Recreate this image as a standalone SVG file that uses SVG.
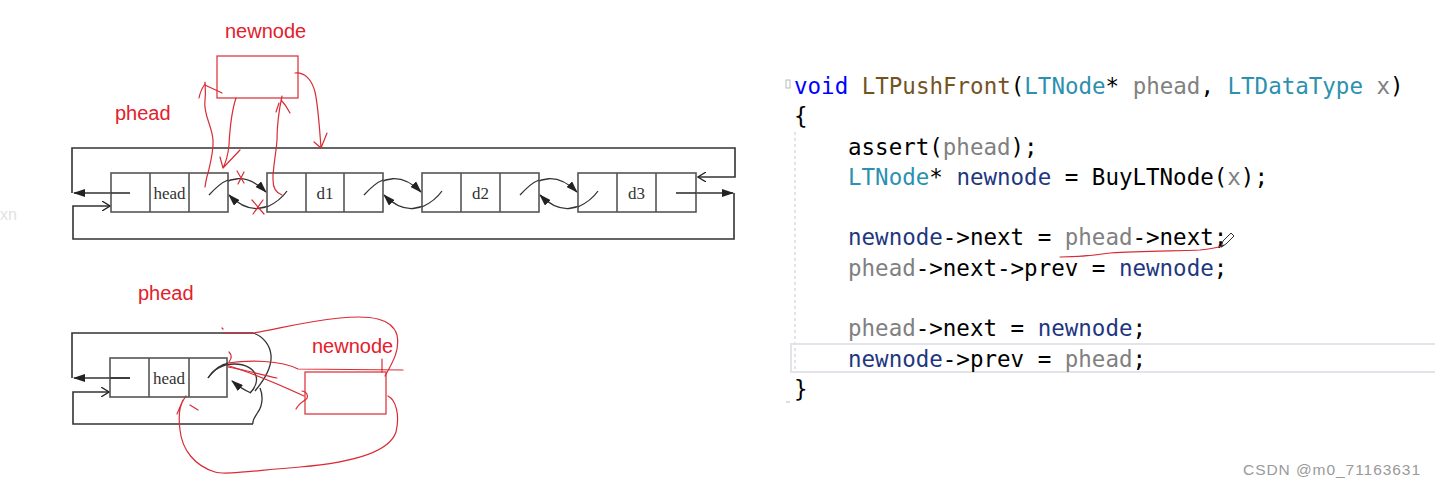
<svg xmlns="http://www.w3.org/2000/svg" width="1435" height="487" viewBox="0 0 1435 487">
<style>
.box{fill:#fff;stroke:#555;stroke-width:1.6}
.div{stroke:#555;stroke-width:1.6}
.ln{fill:none;stroke:#333;stroke-width:1.6}
.arc{fill:none;stroke:#333;stroke-width:1.3}
.red{fill:none;stroke:#d92b35;stroke-width:1.2;stroke-linecap:round;stroke-linejoin:round}
.rbox{fill:none;stroke:#d92b35;stroke-width:1.2}
.lbl{font-family:"Liberation Serif",serif;font-size:17px;fill:#333;text-anchor:middle}
.rtxt{font-family:"Liberation Sans","Noto Sans",sans-serif;font-size:20px;fill:#e3202b}
.code{font-family:"DejaVu Sans Mono","Liberation Mono",monospace;font-size:22.5px;fill:#000}
.kw{fill:#0000ff}.fn{fill:#74531f}.ty{fill:#2b91af}.pa{fill:#808080}.lo{fill:#1f377f}
</style>
<defs>
<marker id="fa" viewBox="0 0 12 8" refX="11" refY="4" markerWidth="12" markerHeight="8" markerUnits="userSpaceOnUse" orient="auto"><path d="M0,0 L12,4 L0,8 z" fill="#222"/></marker>
<marker id="oa" viewBox="0 0 9 10" refX="8" refY="5" markerWidth="9" markerHeight="10" markerUnits="userSpaceOnUse" orient="auto"><path d="M0,0 L8,5 L0,10" fill="none" stroke="#222" stroke-width="1.3"/></marker>
</defs>
<rect width="1435" height="487" fill="#fff"/>

<text x="0" y="220" font-family="Liberation Sans,sans-serif" font-size="16" fill="#e2e2e2">xn</text>

<!-- top diagram labels -->
<text class="rtxt" x="225" y="38">newnode</text>
<text class="rtxt" x="115" y="120">phead</text>

<!-- connectors -->
<g id="connectors">
  <!-- top frame -->
  <path class="ln" d="M130,193 L74,193" marker-end="url(#fa)"/>
  <path class="ln" d="M72,193 L72,148 L735,148 L735,177 L698,177" marker-end="url(#oa)"/>
  <path class="ln" d="M676,193 L733,193" marker-end="url(#fa)"/>
  <path class="ln" d="M734,193 L734,239 L73,239 L73,206 L110,206" marker-end="url(#oa)"/>
  <!-- top inter-node arcs -->
  <path class="arc" d="M209,195 Q238,164 266,192" marker-end="url(#fa)"/>
  <path class="arc" d="M287,191 Q258,224 229,195" marker-end="url(#fa)"/>
  <path class="arc" d="M364,195 Q393,164 421,192" marker-end="url(#fa)"/>
  <path class="arc" d="M442,191 Q413,224 384,195" marker-end="url(#fa)"/>
  <path class="arc" d="M520,195 Q549,164 577,192" marker-end="url(#fa)"/>
  <path class="arc" d="M598,191 Q569,224 540,195" marker-end="url(#fa)"/>
  <!-- bottom frame -->
  <path class="ln" d="M130,378 L74,378" marker-end="url(#fa)"/>
  <path class="ln" d="M72,378 L72,333 L253,333"/>
  <path class="ln" d="M253,424 L73,424 L73,392 L109,392" marker-end="url(#oa)"/>
  <path class="arc" d="M253,333 C263,336 270,345 271,355 C272,366 266,378 255,391"/>
  <path class="arc" d="M260,388 C263,395 263,405 258,412 C255,417 252,420 253,424"/>
  <path class="arc" d="M208,378 C214,369 222,364 234,364 C246,364 254,369 256,376 C258,383 254,389 250,393"/>
  <path class="arc" d="M251,393 C244,390 238,386 232,381" marker-end="url(#fa)"/>
  <!-- red hand-drawn top -->
  <path class="red" d="M205,187 C208,170 214,155 213,140 C212,125 203,115 205,100 C206,92 205,86 205,82"/>
  <path class="red" d="M205,85 C211,88 216,90 222,93 M205,84 C202,88 200,93 199,98"/>
  <path class="red" d="M236,98 C232,110 230,125 229,145 C228,155 226,162 223,168 M223,168 L240,150 M223,168 L220,157"/>
  <path class="red" d="M282,96 C279,110 277,125 277,140 C276,155 273,165 273,180 C273,188 276,193 282,195 M281,100 C285,104 288,109 290,113 M279,103 L276,112"/>
  <path class="red" d="M295,73 C305,72 312,80 315,92 C318,105 319,120 321,148 M321,148 L314,142 M321,148 L327,133"/>
  <path class="red" d="M237,171 L244,183 M244,172 L238,184 M252,200 L264,214 M263,200 L253,214"/>
  <!-- red hand-drawn bottom -->
  <path class="red" d="M222,328 L223,329 M224,333 L253,333 C275,330 300,322 340,318 C370,315 392,318 397,335 C400,350 393,362 385,376"/>
  <path class="red" d="M227,363 C250,360 280,360 298,369 L403,370 M382,359 L382,372"/>
  <path class="red" d="M228,367 C245,370 262,375 277,378"/>
  <path class="red" d="M226,365 C250,372 280,385 304,396 M302,391 C308,392 309,398 305,400 C302,402 298,405 296,409"/>
  <path class="red" d="M229,352 C232,355 232,358 229,362"/>
  <path class="red" d="M388,396 C396,400 400,415 396,432 C390,450 360,462 300,467 C250,471 225,475 215,472 C195,466 182,450 180,430 C178,415 180,405 184,399 L186,396 M183,400 L177,414 M190,405 L198,410"/>
</g>

<!-- top nodes -->
<g id="top-head">
  <rect class="box" x="111" y="173" width="117" height="39"/>
  <line class="div" x1="150" y1="173" x2="150" y2="212"/><line class="div" x1="189" y1="173" x2="189" y2="212"/>
  <text class="lbl" x="169.5" y="199">head</text>
</g>
<g id="top-d1">
  <rect class="box" x="267" y="173" width="116" height="39"/>
  <line class="div" x1="306" y1="173" x2="306" y2="212"/><line class="div" x1="344" y1="173" x2="344" y2="212"/>
  <text class="lbl" x="325" y="199">d1</text>
</g>
<g id="top-d2">
  <rect class="box" x="422" y="173" width="117" height="39"/>
  <line class="div" x1="461" y1="173" x2="461" y2="212"/><line class="div" x1="500" y1="173" x2="500" y2="212"/>
  <text class="lbl" x="480.5" y="199">d2</text>
</g>
<g id="top-d3">
  <rect class="box" x="578" y="173" width="118" height="39"/>
  <line class="div" x1="617" y1="173" x2="617" y2="212"/><line class="div" x1="656" y1="173" x2="656" y2="212"/>
  <text class="lbl" x="636.5" y="199">d3</text>
</g>
<g id="top-newnode">
  <rect class="rbox" x="217" y="56" width="81" height="42"/>
</g>

<!-- re-draw arc fragments over boxes -->
<g id="arc-overlay">
  <path class="arc" d="M209,195 Q220,183 228,180"/>
  <path class="arc" d="M287,191 Q280,201 267,207"/>
  <path class="arc" d="M364,195 Q375,183 383,180"/>
  <path class="arc" d="M442,191 Q435,201 422,207"/>
  <path class="arc" d="M520,195 Q531,183 539,180"/>
  <path class="arc" d="M598,191 Q591,201 578,207"/>
  <path class="ln" d="M130,193 L111,193"/>
  <path class="ln" d="M676,193 L696,193"/>
  <path class="red" d="M205,187 C206,180 207,176 208,173"/>
  <path class="red" d="M282,195 C276,193 273,188 273,180 L273,173"/>
</g>

<!-- bottom diagram -->
<text class="rtxt" x="138" y="300">phead</text>
<text class="rtxt" x="312" y="353">newnode</text>
<g id="bottom-head">
  <rect class="box" x="110" y="358" width="117" height="39" fill-opacity="0"/>
  <line class="div" x1="149" y1="358" x2="149" y2="397"/><line class="div" x1="189" y1="358" x2="189" y2="397"/>
  <text class="lbl" x="169" y="384">head</text>
</g>
<g id="bottom-newnode">
  <rect class="rbox" x="305" y="372" width="81" height="42"/>
</g>
<g id="bottom-overlay">
  <path class="arc" d="M208,378 C214,369 222,364 228,363.5"/>
  <path class="ln" d="M130,378 L110,378"/>
</g>

<!-- code panel -->
<g id="code">
  <rect x="786" y="80" width="4" height="8" fill="none" stroke="#bbb" stroke-width="1"/>
  <line x1="795" y1="132" x2="795" y2="372" stroke="#c8c8c8" stroke-width="1" stroke-dasharray="3,3"/>
  <rect x="791" y="344" width="660" height="28" fill="none" stroke="#e3e3ea" stroke-width="2"/>
  <line x1="786" y1="402" x2="790" y2="402" stroke="#bbb" stroke-width="1"/>
  <text class="code" x="794" y="94" xml:space="preserve"><tspan class="kw">void</tspan> <tspan class="fn">LTPushFront</tspan>(<tspan class="ty">LTNode</tspan>* <tspan class="pa">phead</tspan>, <tspan class="ty">LTDataType</tspan> <tspan class="pa">x</tspan>)</text>
  <text class="code" x="794" y="124">{</text>
  <text class="code" x="848" y="155" xml:space="preserve">assert(<tspan class="pa">phead</tspan>);</text>
  <text class="code" x="848" y="185" xml:space="preserve"><tspan class="ty">LTNode</tspan>* <tspan class="lo">newnode</tspan> = BuyLTNode(<tspan class="pa">x</tspan>);</text>
  <text class="code" x="848" y="245" xml:space="preserve"><tspan class="lo">newnode</tspan>-&gt;next = <tspan class="pa">phead</tspan>-&gt;next;</text>
  <text class="code" x="848" y="276" xml:space="preserve"><tspan class="pa">phead</tspan>-&gt;next-&gt;prev = <tspan class="lo">newnode</tspan>;</text>
  <text class="code" x="848" y="336" xml:space="preserve"><tspan class="pa">phead</tspan>-&gt;next = <tspan class="lo">newnode</tspan>;</text>
  <text class="code" x="848" y="367" xml:space="preserve"><tspan class="lo">newnode</tspan>-&gt;prev = <tspan class="pa">phead</tspan>;</text>
  <text class="code" x="794" y="397">}</text>
  <path class="red" d="M1060,257 C1075,257 1090,256 1110,253 C1140,251 1175,251 1200,250 C1210,249 1216,248 1222,246"/>
  <g id="pencil" fill="none" stroke="#333" stroke-width="1">
    <path d="M1221,247 L1223,241 L1231,233 L1234,236 L1226,244 Z"/>
    <path d="M1221,247 L1224,245" stroke-width="1.5"/>
  </g>
</g>

<text x="1243" y="475" font-family="Liberation Sans,sans-serif" font-size="15.5" fill="#9a9a9a" textLength="177">CSDN @m0_71163631</text>
</svg>
